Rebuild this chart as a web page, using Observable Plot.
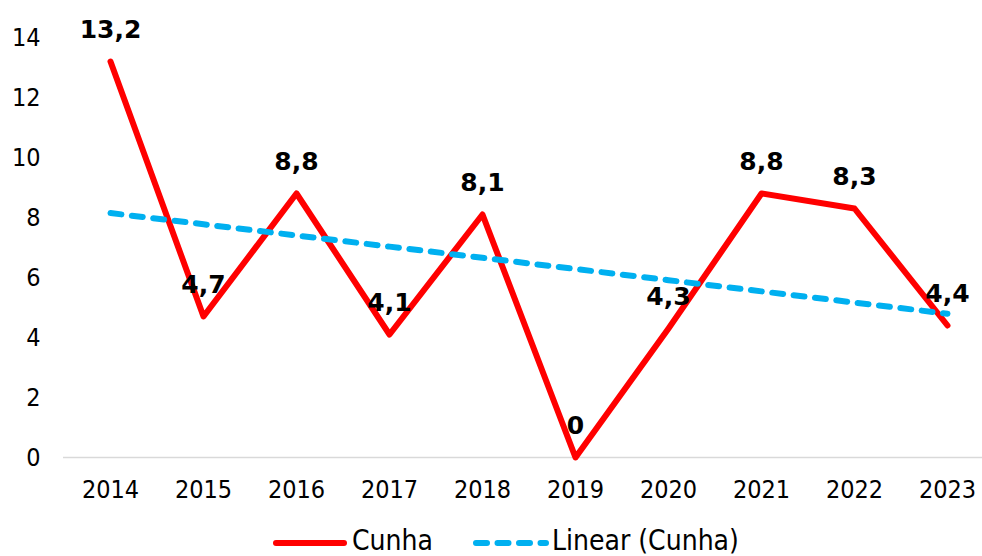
<!DOCTYPE html>
<html>
<head>
<meta charset="utf-8">
<script src="https://cdn.jsdelivr.net/npm/d3@7"></script>
<script src="https://cdn.jsdelivr.net/npm/@observablehq/plot@0.6"></script>
<style>
  html, body { margin: 0; padding: 0; background: #fff; }
  #wrap { width: 982px; height: 556px; overflow: hidden; position: relative; }
  #chart svg, #legend { display: block; }
</style>
</head>
<body>
<div id="wrap">
  <div id="chart"></div>
  <svg id="legend" width="982" height="41"></svg>
</div>
<script>
const years = ["2014","2015","2016","2017","2018","2019","2020","2021","2022","2023"];
const values = [13.2, 4.7, 8.8, 4.1, 8.1, 0, 4.3, 8.8, 8.3, 4.4];
const yTicks = [0, 2, 4, 6, 8, 10, 12, 14];
const seriesName = "Cunha";
const trendName = "Linear (Cunha)";

const red = "#ff0000";
const blue = "#00b0f0";
const dash = "11,10.5";

const data = years.map((year, i) => ({year, value: values[i], label: String(values[i]).replace(".", ",")}));

// least-squares linear trend
const mx = d3.mean(values, (_, i) => i);
const my = d3.mean(values);
const sxy = d3.sum(values, (v, i) => (i - mx) * (v - my));
const sxx = d3.sum(values, (_, i) => (i - mx) * (i - mx));
const slope = sxy / sxx;
const intercept = my - slope * mx;
const trend = years.map((year, i) => ({year, value: intercept + slope * i}));

const chart = Plot.plot({
  width: 982,
  height: 515,
  marginLeft: 63,
  marginRight: 0,
  marginTop: 37,
  marginBottom: 58,
  style: {fontFamily: "'DejaVu Sans Condensed', 'DejaVu Sans', sans-serif", fontSize: "25px", color: "#000", background: "#fff"},
  x: {type: "point", domain: years, range: [63, 994.5], padding: 0.5, label: null},
  y: {domain: [0, 14], label: null},
  marks: [
    Plot.axisX({tickSize: 0, tickPadding: 23, fontSize: 25, label: null}),
    Plot.axisY({ticks: yTicks, tickSize: 0, tickPadding: 23, fontSize: 25, label: null}),
    Plot.ruleY([0], {stroke: "#d9d9d9", strokeWidth: 1.5}),
    Plot.line(data, {x: "year", y: "value", stroke: red, strokeWidth: 6}),
    Plot.line(trend, {x: "year", y: "value", stroke: blue, strokeWidth: 6, strokeDasharray: dash, strokeLinecap: "round"}),
    Plot.text(data, {x: "year", y: "value", text: "label", dy: -24, lineAnchor: "bottom", fontSize: 25, fontWeight: "bold", fill: "#000", fontFamily: "'DejaVu Sans', sans-serif"})
  ]
});
document.getElementById("chart").appendChild(chart);

// legend
const legend = d3.select("#legend");
const items = [
  {name: seriesName, color: red, dash: null, x1: 276, x2: 344, tx: 352},
  {name: trendName, color: blue, dash: dash, x1: 476, x2: 546, tx: 552}
];
items.forEach(it => {
  legend.append("line").attr("x1", it.x1).attr("x2", it.x2).attr("y1", 28).attr("y2", 28)
    .attr("stroke", it.color).attr("stroke-width", 6).attr("stroke-linecap", "round")
    .attr("stroke-dasharray", it.dash);
  legend.append("text").attr("x", it.tx).attr("y", 35)
    .attr("font-family", "'DejaVu Sans Condensed', 'DejaVu Sans', sans-serif")
    .attr("font-size", 28).attr("fill", "#000").text(it.name);
});
</script>
</body>
</html>
